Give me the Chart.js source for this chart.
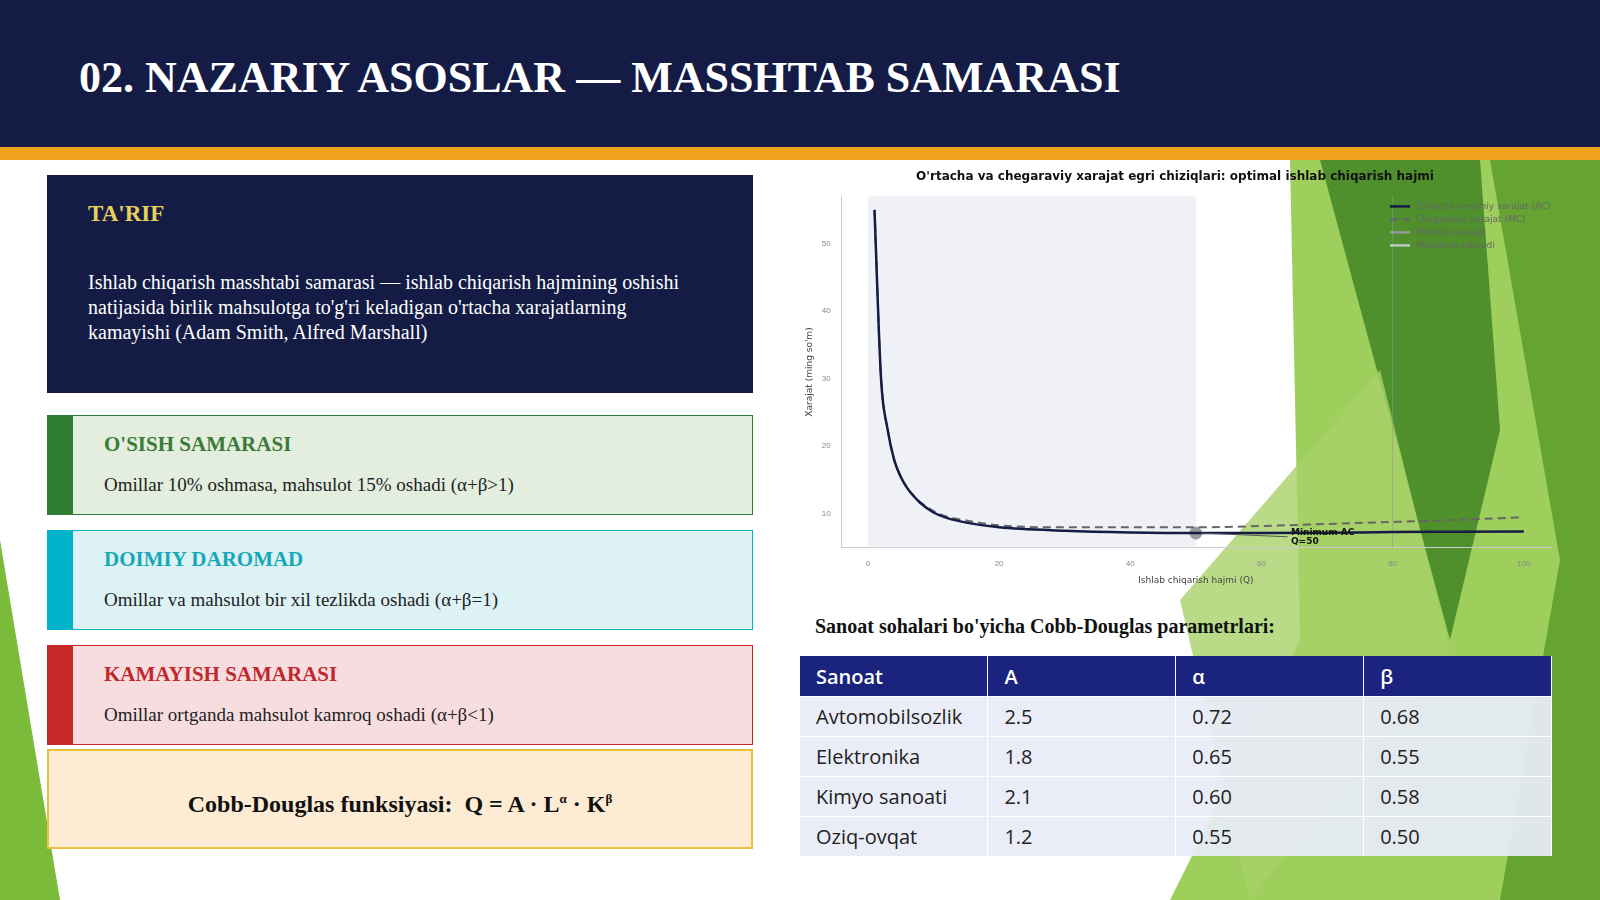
<!DOCTYPE html>
<html lang="en">
<head>
<meta charset="UTF-8">
<title>Masshtab samarasi</title>
<script src="https://cdn.jsdelivr.net/npm/chart.js"></script>
<style>
  body { margin:0; width:1600px; height:900px; overflow:hidden; background:#fff; position:relative; font-family:"Liberation Serif", serif; }
  .shape { position:absolute; }
  .hdr { position:absolute; left:0; top:0; width:1600px; height:147px; background:#141c45; }
  .hdr h1 { margin:0; position:absolute; left:79px; top:52px; color:#fff; font-size:44px; font-weight:bold; }
  .strip { position:absolute; left:0; top:147px; width:1600px; height:13px; background:#f0a31c; }
  .box { position:absolute; left:47px; width:706px; box-sizing:border-box; }
  .card { border:1.5px solid; }
  .card .bar { position:absolute; left:0; top:0; bottom:0; width:25px; }
  .card h3 { margin:0; position:absolute; left:56px; top:16px; font-size:21px; }
  .card p { margin:0; position:absolute; left:56px; top:58px; font-size:19px; color:#222; }
  .chartwrap { position:absolute; left:800px; top:170px; width:770px; height:420px; }
  table { position:absolute; left:800px; top:656px; width:752px; border-collapse:collapse; table-layout:fixed; font-family:"Open Sans", sans-serif; font-size:20px; }
  th { background:#1a237e; color:#fff; text-align:left; font-weight:600; height:40px; padding:0 16px; border-right:1px solid #fff; }
  td { background:rgba(232,236,248,0.93); height:39px; padding:0 16px; color:#222; border-right:1px solid #fff; border-top:1px solid #fff; }
</style>
</head>
<body>
<!-- green decorative shapes -->
<div class="shape" style="left:0;top:0;width:1600px;height:900px;background:#8dc63f;clip-path:polygon(1290px 160px,1600px 160px,1600px 900px,1170px 900px,1300px 640px);opacity:0.85"></div>
<div class="shape" style="left:0;top:0;width:1600px;height:900px;background:#4f8f2c;clip-path:polygon(1320px 160px,1480px 160px,1500px 430px,1450px 640px);"></div>
<div class="shape" style="left:0;top:0;width:1600px;height:900px;background:#a7d26a;clip-path:polygon(1180px 600px,1380px 370px,1450px 650px,1250px 900px);opacity:0.8"></div>
<div class="shape" style="left:0;top:0;width:1600px;height:900px;background:#7bbb3a;clip-path:polygon(0 540px,60px 900px,0 900px);"></div>
<div class="shape" style="left:0;top:0;width:1600px;height:900px;background:#5ea02e;clip-path:polygon(1490px 160px,1600px 160px,1600px 900px,1500px 900px,1560px 560px);opacity:0.9"></div>

<div class="hdr"><h1>02. NAZARIY ASOSLAR — MASSHTAB SAMARASI</h1></div>
<div class="strip"></div>

<div class="box" style="top:175px;height:218px;background:#141c45;">
  <div style="position:absolute;left:41px;top:26px;color:#e8cf5c;font-size:23px;font-weight:bold;">TA'RIF</div>
  <div style="position:absolute;left:41px;top:95px;width:625px;color:#fff;font-size:20px;line-height:25px;">Ishlab chiqarish masshtabi samarasi — ishlab chiqarish hajmining oshishi natijasida birlik mahsulotga to'g'ri keladigan o'rtacha xarajatlarning kamayishi (Adam Smith, Alfred Marshall)</div>
</div>
<div class="box card" style="top:415px;height:100px;background:#e3eede;border-color:#2e7d32;">
  <div class="bar" style="background:#2e7d32"></div><h3 style="color:#3b7a37">O'SISH SAMARASI</h3>
  <p>Omillar 10% oshmasa, mahsulot 15% oshadi (α+β&gt;1)</p>
</div>
<div class="box card" style="top:530px;height:100px;background:#dcf2f5;border-color:#00b3c8;">
  <div class="bar" style="background:#00b3c8"></div><h3 style="color:#17a7b8">DOIMIY DAROMAD</h3>
  <p>Omillar va mahsulot bir xil tezlikda oshadi (α+β=1)</p>
</div>
<div class="box card" style="top:645px;height:100px;background:#f8dde0;border-color:#c62828;">
  <div class="bar" style="background:#c62828"></div><h3 style="color:#c0282d">KAMAYISH SAMARASI</h3>
  <p>Omillar ortganda mahsulot kamroq oshadi (α+β&lt;1)</p>
</div>
<div class="box" style="top:749px;height:100px;background:#fdebd3;border:2px solid #e8c23c;text-align:center;line-height:96px;font-size:24px;font-weight:bold;color:#111;">Cobb-Douglas funksiyasi:&nbsp; Q = A · L<sup style="font-size:13px">α</sup> · K<sup style="font-size:13px">β</sup></div>

<div class="chartwrap"><canvas id="acmc" width="770" height="420"></canvas></div>

<div style="position:absolute;left:815px;top:615px;font-size:20px;font-weight:bold;color:#111;">Sanoat sohalari bo'yicha Cobb-Douglas parametrlari:</div>
<table id="cd"></table>

<script>
  // Chart data
  const quantities = [1,2,3,4,5,6,7,8,10,12,15,20,30,40,50,60,70,80,90,100];
  const avgCost   = [55,30,22.5,18,15.5,13.8,12.6,11.6,10.2,9.4,8.7,8.0,7.5,7.25,7.15,7.15,7.2,7.3,7.35,7.4];
  const margCost  = [55,30,22.5,18,15.5,13.8,12.6,11.7,10.4,9.6,9.0,8.3,8.0,8.0,8.0,8.2,8.5,8.8,9.1,9.5];
  const minPoint  = [{ x: 50, y: 7.15 }];

  // Table data
  const industries = ['Avtomobilsozlik','Elektronika','Kimyo sanoati','Oziq-ovqat'];
  const paramA     = ['2.5','1.8','2.1','1.2'];
  const alphas     = ['0.72','0.65','0.60','0.55'];
  const betas      = ['0.68','0.55','0.58','0.50'];

  let html = '<tr><th>Sanoat</th><th>A</th><th>α</th><th>β</th></tr>';
  industries.forEach((name, i) => {
    html += `<tr><td>${name}</td><td>${paramA[i]}</td><td>${alphas[i]}</td><td>${betas[i]}</td></tr>`;
  });
  document.getElementById('cd').innerHTML = html;

  // shaded zone 0..50, min-AC annotation, legend in top-right corner
  const extras = {
    id: 'extras',
    beforeDatasetsDraw(chart) {
      const { ctx, chartArea, scales: { x } } = chart;
      ctx.save();
      ctx.fillStyle = 'rgba(225,230,240,0.55)';
      ctx.fillRect(x.getPixelForValue(0), chartArea.top, x.getPixelForValue(50) - x.getPixelForValue(0), chartArea.bottom - chartArea.top);
      ctx.strokeStyle = 'rgba(150,150,150,0.6)';
      ctx.lineWidth = 1;
      const vx = x.getPixelForValue(80);
      ctx.beginPath(); ctx.moveTo(vx, chartArea.top); ctx.lineTo(vx, chartArea.bottom); ctx.stroke();
      ctx.restore();
    },
    afterDatasetsDraw(chart) {
      const { ctx, chartArea, scales: { x, y } } = chart;
      const px = x.getPixelForValue(50), py = y.getPixelForValue(7.15);
      ctx.save();
      ctx.strokeStyle = '#555'; ctx.lineWidth = 1;
      ctx.beginPath(); ctx.moveTo(px + 5, py); ctx.lineTo(x.getPixelForValue(64), y.getPixelForValue(6.6)); ctx.stroke();
      ctx.fillStyle = '#111'; ctx.font = 'bold 9px "DejaVu Sans"';
      ctx.fillText('Minimum AC', x.getPixelForValue(64.5), y.getPixelForValue(6.9));
      ctx.fillText('Q=50', x.getPixelForValue(64.5), y.getPixelForValue(5.6));
      // legend
      const lx = chartArea.right - 160;
      ctx.font = '9px "DejaVu Sans"';
      chart.data.datasets.forEach((ds, i) => {
        const ly = chartArea.top + 10 + i * 13;
        ctx.strokeStyle = ds.borderColor; ctx.lineWidth = 2.5;
        ctx.setLineDash(ds.borderDash || []);
        ctx.beginPath(); ctx.moveTo(lx, ly); ctx.lineTo(lx + 20, ly); ctx.stroke();
        ctx.setLineDash([]);
        ctx.fillStyle = '#666';
        ctx.fillText(ds.label, lx + 26, ly + 3);
      });
      ctx.restore();
    }
  };

  new Chart(document.getElementById('acmc'), {
    type: 'line',
    data: {
      labels: quantities,
      datasets: [
        { label: "O'rtacha umumiy xarajat (AC)", data: quantities.map((q, i) => ({ x: q, y: avgCost[i] })), borderColor: '#141c45', borderWidth: 2.5, pointRadius: 0, cubicInterpolationMode: 'monotone' },
        { label: 'Chegaraviy xarajat (MC)', data: quantities.map((q, i) => ({ x: q, y: margCost[i] })), borderColor: '#666', borderDash: [8, 5], borderWidth: 2, pointRadius: 0, cubicInterpolationMode: 'monotone' },
        { label: 'Minimal xarajat', data: minPoint, borderColor: '#999', backgroundColor: '#999', pointRadius: 6, showLine: false },
        { label: 'Masshtab iqtisodi', data: [], borderColor: 'rgba(200,205,215,0.9)', backgroundColor: 'rgba(225,230,240,0.8)' }
      ]
    },
    options: {
      responsive: false,
      animation: false,
      layout: { padding: { right: 20 } },
      plugins: {
        title: { display: true, text: "O'rtacha va chegaraviy xarajat egri chiziqlari: optimal ishlab chiqarish hajmi", color: '#111', font: { family: 'DejaVu Sans', size: 12, weight: 'bold' }, padding: { bottom: 12 } },
        legend: { display: false }
      },
      scales: {
        x: { type: 'linear', min: -4, max: 104, afterBuildTicks: s => { s.ticks = [0,20,40,60,80,100].map(v => ({ value: v })); },
             title: { display: true, text: 'Ishlab chiqarish hajmi (Q)', color: '#444', font: { family: 'DejaVu Sans', size: 9 } },
             grid: { display: false }, border: { color: '#ccc' }, ticks: { color: '#888', font: { size: 8 } } },
        y: { min: 5, max: 57, afterBuildTicks: s => { s.ticks = [10,20,30,40,50].map(v => ({ value: v })); },
             title: { display: true, text: "Xarajat (ming so'm)", color: '#444', font: { family: 'DejaVu Sans', size: 9 } },
             grid: { display: false }, border: { color: '#ccc' }, ticks: { color: '#888', font: { size: 8 } } }
      }
    },
    plugins: [extras]
  });
</script>
</body>
</html>
